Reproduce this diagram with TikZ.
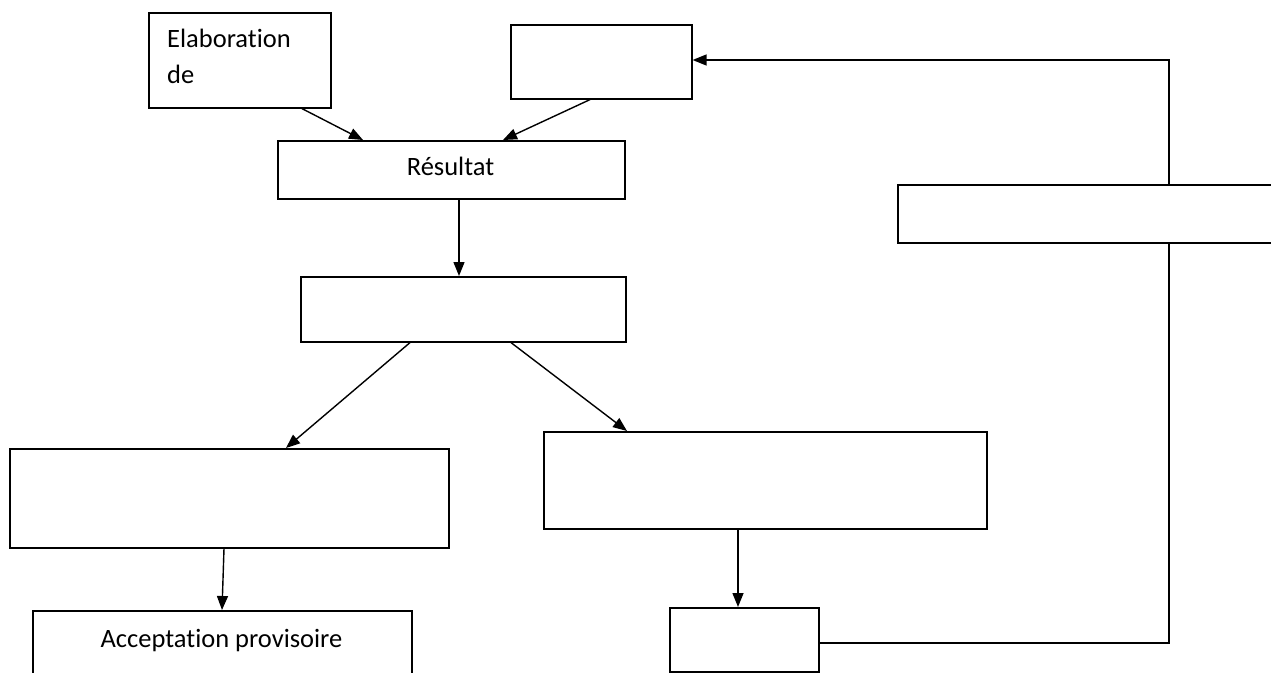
\documentclass[tikz,border=0pt]{standalone}
\usepackage{fontspec}
\setmainfont{Carlito}[Ligatures=NoCommon]
\usetikzlibrary{arrows.meta,calc}
\tikzset{
  box/.style={draw, line width=1.6pt, rectangle, inner sep=0pt, anchor=north west},
  conn/.style={line width=1.4pt, -{Triangle[length=14pt,width=11pt]}},
  plain/.style={line width=1.4pt},
  lbl/.style={font=\fontsize{26.5}{36}\selectfont, inner sep=0pt}
}
\begin{document}
\begin{tikzpicture}[x=1pt,y=-1pt]
\useasboundingbox (0,0) rectangle (1271,672);
\clip (0,0) rectangle (1271,672);
% boxes
\node[box, minimum width=182pt, minimum height=95pt] (a) at (148,12) {};
\node[box, minimum width=181pt, minimum height=74pt] (b) at (510,24) {};
\node[box, minimum width=347pt, minimum height=58pt] (r) at (277,140) {};
\node[box, minimum width=325pt, minimum height=65pt] (d) at (300,276) {};
\node[box, minimum width=439pt, minimum height=99pt] (e) at (9,448) {};
\node[box, minimum width=443pt, minimum height=97pt] (f) at (543,431) {};
\node[box, minimum width=379pt, minimum height=100pt] (g) at (32,610) {};
\node[box, minimum width=149pt, minimum height=64pt] (h) at (669,607) {};
\node[box, minimum width=380pt, minimum height=58pt] (i) at (897,184) {};
% texts
\node[lbl, anchor=base west, align=left] (ta) at (167,83) {Elaboration\\de};
\node[lbl, anchor=base] (tr) at (450.5,175) {Résultat};
\node[lbl, anchor=base] (tg) at (221.5,647) {Acceptation provisoire};
% connectors
\draw[conn] ($(a.south west)+(154,0)$) -- ($(r.north west)+(86,0)$);
\draw[conn] ($(b.south west)+(80,0)$) -- ($(r.north west)+(226,0)$);
\draw[conn] ($(r.south west)+(182,0)$) -- ($(d.north west)+(159,0)$);
\draw[conn] ($(d.south west)+(110,0)$) -- ($(e.north west)+(277,0)$);
\draw[conn] ($(d.south west)+(211,0)$) -- ($(f.north west)+(84,0)$);
\draw[conn] ($(e.south west)+(215,0)$) -- ($(g.north west)+(190,0)$);
\draw[conn] ($(f.south west)+(195,0)$) -- ($(h.north west)+(69,0)$);
\coordinate (c1) at (1169,643);
\coordinate (c2) at (1169,60);
\draw[plain] (h.east |- c1) -- (c1) -- (c1 |- i.south);
\draw[conn] (c2 |- i.north) -- (c2) -- (b.east |- c2);
\end{tikzpicture}
\end{document}
